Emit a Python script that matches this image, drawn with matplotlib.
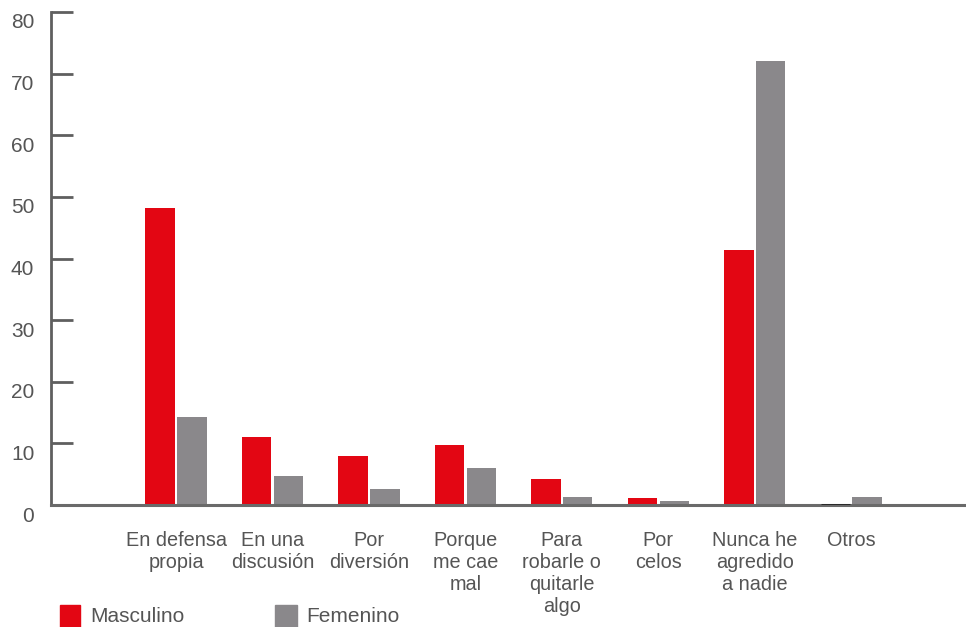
import matplotlib
matplotlib.use("Agg")
import matplotlib.pyplot as plt
import matplotlib.transforms as mtransforms
from matplotlib.patches import Rectangle
import numpy as np

categories = ["En defensa\npropia", "En una\ndiscusión", "Por\ndiversión", "Porque\nme cae\nmal",
              "Para\nrobarle o\nquitarle\nalgo", "Por\ncelos", "Nunca he\nagredido\na nadie", "Otros"]
masculino = [48.2, 11.0, 8.0, 9.7, 4.2, 1.1, 41.4, 0.0]
femenino = [14.3, 4.7, 2.6, 6.0, 1.3, 0.65, 72.1, 1.3]
yticks = [0, 10, 20, 30, 40, 50, 60, 70, 80]
series_names = ["Masculino", "Femenino"]

RED = "#E30613"
GRAY = "#8A888B"
AXC = "#5F5F5F"
TXT = "#555555"

plt.rcParams['font.family'] = ['Liberation Sans', 'DejaVu Sans']

W, H = 966, 627
fig = plt.figure(figsize=(W / 100, H / 100), dpi=100)
ax = fig.add_axes([51 / W, (H - 505) / H, (965 - 51) / W, (505 - 12) / H])

x = np.arange(len(categories))
bw = 0.305
off = 0.165
ax.bar(x - off, masculino, width=bw, color=RED, zorder=2)
ax.bar(x + off, femenino, width=bw, color=GRAY, zorder=2)
# zero-height bar marker for "Otros" masculino
for xi, v in zip(x, masculino):
    if v == 0:
        ax.plot([xi - off - bw / 2, xi - off + bw / 2], [0, 0], color="#222222", lw=2, zorder=4,
                solid_capstyle="butt")

ax.set_xlim(-1.297, 8.18)
ax.set_ylim(0, 80)

for s in ["top", "right"]:
    ax.spines[s].set_visible(False)
ax.spines["left"].set_color(AXC)
ax.spines["left"].set_linewidth(2)
ax.spines["bottom"].set_color("#6A6A6A")
ax.spines["bottom"].set_linewidth(2.2)
ax.spines["bottom"].set_zorder(3)

ax.set_yticks(yticks)
ax.set_yticklabels([str(t) for t in yticks])
ax.tick_params(axis="y", direction="in", length=16, width=2, color=AXC,
               labelsize=15, labelcolor=TXT, pad=12)
offset = mtransforms.ScaledTranslation(0, -9 / 100, fig.dpi_scale_trans)
for lab in ax.get_yticklabels():
    lab.set_transform(lab.get_transform() + offset)

ax.set_xticks(x)
ax.set_xticklabels(categories, linespacing=1.2)
ax.tick_params(axis="x", length=0, labelsize=14.3, labelcolor=TXT, pad=19)

# legend
fig.patches.append(Rectangle((60 / W, (H - 627) / H), 20 / W, 22 / H, transform=fig.transFigure,
                             color=RED, figure=fig))
fig.text(90 / W, (H - 616) / H, series_names[0], fontsize=15, color=TXT, va="center")
fig.patches.append(Rectangle((275 / W, (H - 627) / H), 22 / W, 22 / H, transform=fig.transFigure,
                             color=GRAY, figure=fig))
fig.text(306 / W, (H - 616) / H, series_names[1], fontsize=15, color=TXT, va="center")

fig.savefig("out.png", dpi=100)
